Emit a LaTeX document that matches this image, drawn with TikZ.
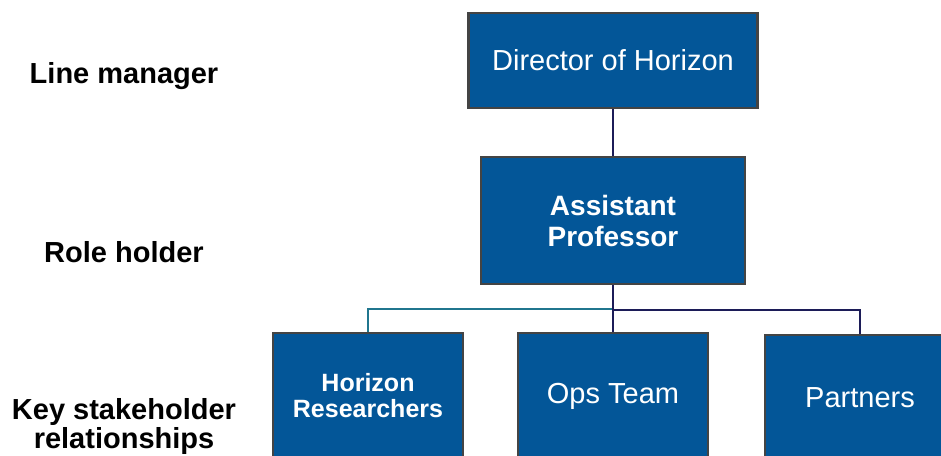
\documentclass[tikz,border=0pt]{standalone}
\usepackage{fontspec}
\setmainfont{Liberation Sans}
\usepackage{tikz}
\usetikzlibrary{arrows,shapes}
\definecolor{boxblue}{RGB}{3,86,152}
\definecolor{boxline}{RGB}{68,68,68}
\definecolor{navyline}{RGB}{28,28,88}
\definecolor{tealline}{RGB}{32,118,142}

\begin{document}
\begin{tikzpicture}[x=1pt,y=-1pt,node distance=160pt,line width=2pt]
 \tikzstyle{post}=[rectangle,draw=boxline,fill=boxblue,text=white,line width=2.5pt,align=center,inner sep=0pt]
 \tikzstyle{level}=[align=center,font=\fontsize{29}{29}\selectfont\bfseries]

   \useasboundingbox (0,0) rectangle (941,455);
   \clip (0,0) rectangle (941,455);

   \node[post,minimum width=289pt,minimum height=95pt,font=\fontsize{29}{33}\selectfont] (dir) at (613,60.5) {Director of Horizon};
   \node[post,minimum width=264pt,minimum height=127pt,font=\fontsize{28}{31}\selectfont\bfseries] (ap) [below of = dir] {Assistant\\Professor};
   \node[post,minimum width=190pt,minimum height=126pt,font=\fontsize{25}{26}\selectfont\bfseries] (hr) at (368,396) {Horizon\\Researchers};
   \node[post,minimum width=190pt,minimum height=126pt,font=\fontsize{29}{33}\selectfont] (ops) at (613,396) {Ops Team};
   \node[post,minimum width=190pt,minimum height=126pt,font=\fontsize{29}{33}\selectfont] (pa) at (860,398) {Partners};

   \node[level] (lm) at (124,76) {Line manager};
   \node[level] (rh) at (124,252) {Role holder};
   \node[level] (ks) at (124,426) {Key stakeholder\\relationships};

   \coordinate (bus) at (613,309);

   \draw[tealline] (bus) -| (hr.north);
   \draw[navyline] (bus) ++(0,1) -| (pa.north);
   \draw[navyline] (dir) -- (ap);
   \draw[navyline] (ap) -- (ops);

\end{tikzpicture}
\end{document}
